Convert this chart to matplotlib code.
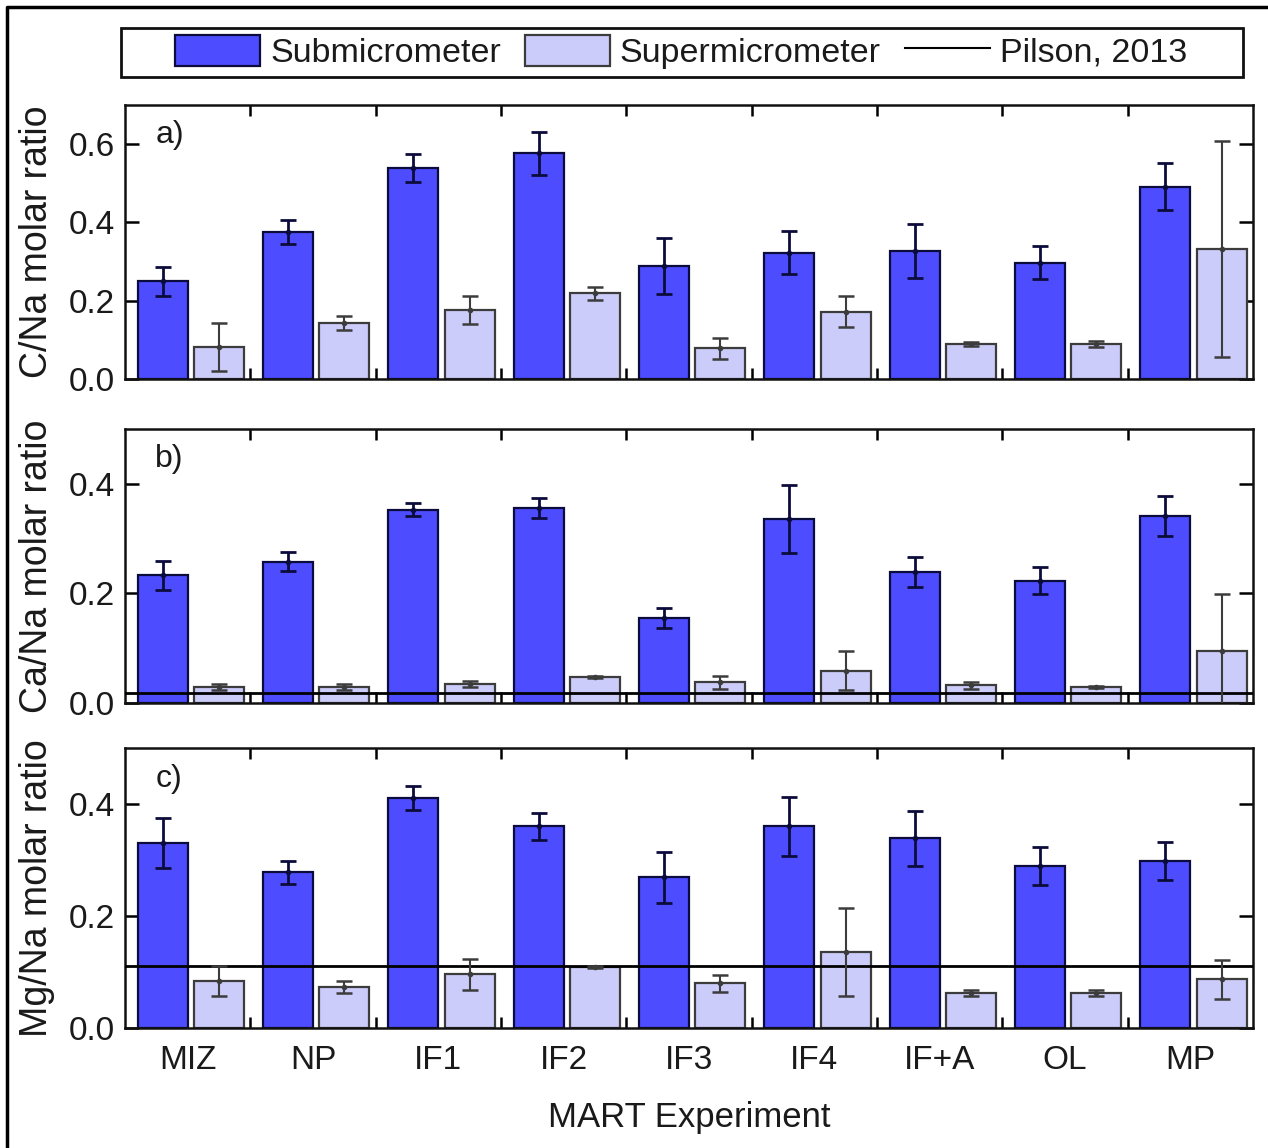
import numpy as np
import matplotlib.pyplot as plt
from matplotlib.patches import Patch, Rectangle
from matplotlib.lines import Line2D

plt.rcParams["font.family"] = ["Liberation Sans", "DejaVu Sans"]

experiments = ["MIZ", "NP", "IF1", "IF2", "IF3", "IF4", "IF+A", "OL", "MP"]

# a) C/Na
c_sub = [0.250, 0.375, 0.539, 0.577, 0.289, 0.322, 0.328, 0.297, 0.491]
c_sub_err = [0.037, 0.030, 0.035, 0.055, 0.072, 0.055, 0.069, 0.042, 0.060]
c_super = [0.082, 0.143, 0.176, 0.219, 0.078, 0.172, 0.090, 0.090, 0.331]
c_super_err = [0.061, 0.018, 0.036, 0.016, 0.026, 0.040, 0.005, 0.008, 0.276]

# b) Ca/Na
ca_sub = [0.233, 0.258, 0.353, 0.356, 0.155, 0.335, 0.239, 0.223, 0.341]
ca_sub_err = [0.027, 0.018, 0.012, 0.019, 0.018, 0.062, 0.027, 0.025, 0.037]
ca_super = [0.029, 0.029, 0.035, 0.047, 0.038, 0.059, 0.032, 0.029, 0.094]
ca_super_err = [0.005, 0.005, 0.006, 0.002, 0.012, 0.036, 0.006, 0.002, 0.105]

# c) Mg/Na
mg_sub = [0.330, 0.278, 0.411, 0.360, 0.269, 0.360, 0.339, 0.289, 0.298]
mg_sub_err = [0.045, 0.020, 0.021, 0.024, 0.046, 0.052, 0.049, 0.034, 0.034]
mg_super = [0.084, 0.073, 0.096, 0.109, 0.080, 0.136, 0.062, 0.062, 0.087]
mg_super_err = [0.026, 0.011, 0.028, 0.002, 0.015, 0.079, 0.005, 0.005, 0.035]

# Pilson, 2013 seawater ratios
pilson_ca = 0.018
pilson_mg = 0.110

panels = [
    ("a)", "C/Na molar ratio", c_sub, c_sub_err, c_super, c_super_err, None, 0.7, [0.0, 0.2, 0.4, 0.6]),
    ("b)", "Ca/Na molar ratio", ca_sub, ca_sub_err, ca_super, ca_super_err, pilson_ca, 0.5, [0.0, 0.2, 0.4]),
    ("c)", "Mg/Na molar ratio", mg_sub, mg_sub_err, mg_super, mg_super_err, pilson_mg, 0.5, [0.0, 0.2, 0.4]),
]

SUB_FILL = "#4d4dff"
SUB_EDGE = "#0c0c3c"
SUP_FILL = "#ccccfa"
SUP_EDGE = "#3c3c3c"
TEXT = "#1a1a1a"
FS = 24

W, H = 1268, 1148
fig = plt.figure(figsize=(W / 100, H / 100), dpi=100)

# axes boxes in pixels: (top, bottom)
boxes = [(105, 379), (429, 703), (748, 1028)]
left_px, right_px = 125, 1253

x = np.arange(len(experiments))
axes = []
for (label, ylabel, sub, sub_err, sup, sup_err, pilson, ytop, yticks), (t, b) in zip(panels, boxes):
    ax = fig.add_axes([left_px / W, 1 - b / H, (right_px - left_px) / W, (b - t) / H])
    axes.append(ax)

    ax.bar(x - 0.2, sub, width=0.4, color=SUB_FILL, edgecolor=SUB_EDGE, linewidth=1.6, zorder=2)
    ax.bar(x + 0.25, sup, width=0.4, color=SUP_FILL, edgecolor=SUP_EDGE, linewidth=1.6, zorder=2)

    ax.errorbar(x - 0.2, sub, yerr=sub_err, fmt="o", ms=3, color=SUB_EDGE,
                elinewidth=2, capsize=6, capthick=2, zorder=4)
    ax.errorbar(x + 0.25, sup, yerr=sup_err, fmt="o", ms=3, color=SUP_EDGE,
                elinewidth=1.5, capsize=6, capthick=1.8, zorder=4)

    if pilson is not None:
        ax.axhline(pilson, color="black", linewidth=2, zorder=3)

    ax.set_xlim(-0.5, 8.5)
    ax.set_ylim(0, ytop)
    ax.set_yticks(yticks)
    ax.set_yticklabels([f"{v:.1f}" for v in yticks])
    ax.set_xticks(x)
    ax.set_xticks(x[:-1] + 0.5, minor=True)
    ax.set_xticklabels([])

    ax.tick_params(axis="y", which="major", direction="in", length=10, width=1.8,
                   left=True, right=True, labelsize=FS, labelcolor=TEXT, pad=7)
    ax.tick_params(axis="x", which="major", length=0, labelsize=FS, labelcolor=TEXT, pad=12)
    ax.tick_params(axis="x", which="minor", direction="in", length=8, width=1.8,
                   top=True, bottom=True)

    for s in ax.spines.values():
        s.set_linewidth(1.8)
        s.set_color("#111111")

    ax.set_ylabel(ylabel, fontsize=27, color=TEXT)
    ax.yaxis.set_label_coords(-0.062, 0.5)
    ax.text(0.027, 0.89, label, transform=ax.transAxes, fontsize=FS - 1,
            color=TEXT, va="center", ha="left")

axes[-1].set_xticklabels(experiments)
axes[-1].set_xlabel("MART Experiment", fontsize=25, color=TEXT, labelpad=18)

# legend box across the top
fig.patches.append(Rectangle((121 / W, 1 - 77 / H), (1243 - 121) / W, (77 - 28) / H,
                             transform=fig.transFigure, fill=False,
                             edgecolor="#111111", linewidth=2))
handles = [
    Patch(facecolor=SUB_FILL, edgecolor=SUB_EDGE, linewidth=1.6, label="Submicrometer"),
    Patch(facecolor=SUP_FILL, edgecolor=SUP_EDGE, linewidth=1.6, label="Supermicrometer"),
    Line2D([], [], color="black", linewidth=1.5, label="Pilson, 2013"),
]
fig.legend(handles=handles, loc="center", bbox_to_anchor=(681 / W, 1 - 52 / H),
           ncol=3, frameon=False, fontsize=24.5, handlelength=2.5, handleheight=1.0,
           handletextpad=0.3, columnspacing=0.7, borderpad=0, labelcolor=TEXT)

# outer frame (left and top edges visible)
fig.lines.append(Line2D([7 / W, 7 / W, 1.0], [0.0, 1 - 7 / H, 1 - 7 / H],
                        transform=fig.transFigure, color="black", linewidth=2.5))

fig.savefig("out.png", dpi=100)
